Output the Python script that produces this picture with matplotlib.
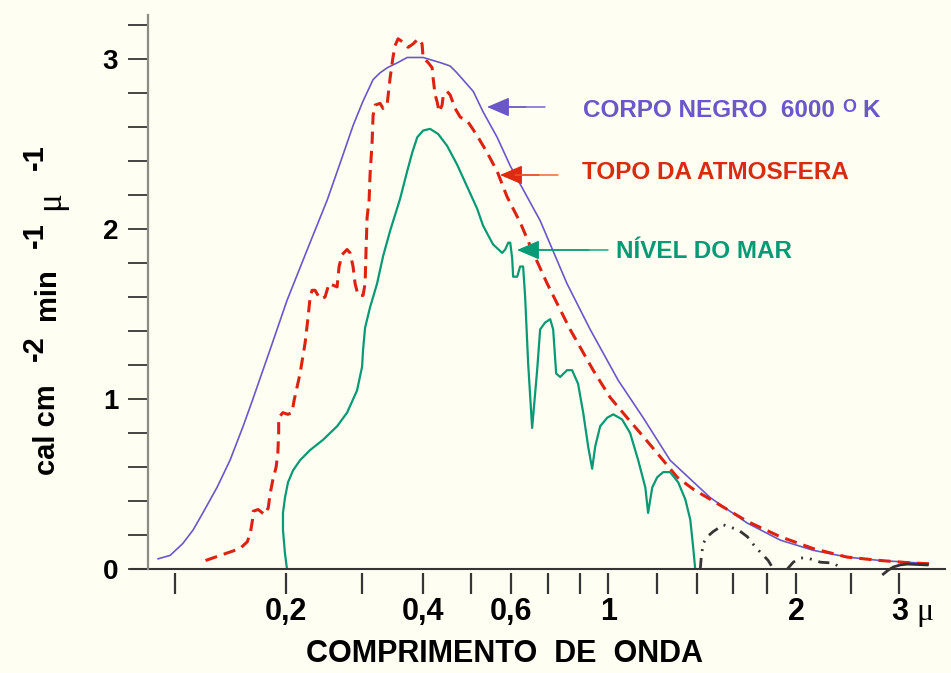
import numpy as np
import matplotlib.pyplot as plt

# spectral irradiance (cal cm-2 min-1 micron-1) vs wavelength (micron)
corpo_wl = [0.090, 0.097, 0.105, 0.112, 0.119, 0.130, 0.141, 0.153, 0.162, 0.181,
            0.201, 0.224, 0.249, 0.267, 0.286, 0.301, 0.316, 0.3266, 0.338, 0.355, 0.371,
            0.400, 0.433, 0.4535, 0.468, 0.505, 0.528, 0.563, 0.598, 0.677, 0.757, 0.866,
            1.038, 1.139, 1.261, 1.469, 1.680, 1.887, 2.142, 2.458, 2.79, 3.25]
corpo_val = [0.06, 0.08, 0.15, 0.23, 0.33, 0.48, 0.64, 0.84, 0.99, 1.29,
             1.58, 1.88, 2.17, 2.39, 2.61, 2.75, 2.88, 2.92, 2.95, 2.98, 3.01,
             3.01, 2.98, 2.96, 2.92, 2.81, 2.69, 2.54, 2.37, 2.05, 1.68, 1.41,
             1.11, 0.89, 0.64, 0.42, 0.27, 0.17, 0.11, 0.07, 0.05, 0.035]

topo_wl = [0.121, 0.141, 0.150, 0.157, 0.160, 0.162, 0.163, 0.168, 0.175, 0.179,
           0.181, 0.184, 0.188, 0.190, 0.191, 0.191, 0.196, 0.202, 0.2065, 0.2087,
           0.2121, 0.2155, 0.2214, 0.2249, 0.2274, 0.2298, 0.2334, 0.2398, 0.2462, 0.2516,
           0.2626, 0.2654, 0.2697, 0.2769, 0.2814, 0.2859, 0.289, 0.2937, 0.3014, 0.3043,
           0.3057, 0.3072, 0.3101, 0.3115, 0.3145, 0.316, 0.319, 0.3266, 0.3312, 0.3375,
           0.3424, 0.347, 0.3505, 0.3555, 0.364, 0.3728, 0.3816, 0.3907, 0.398, 0.400,
           0.4094, 0.4171, 0.419, 0.423, 0.4269, 0.4309, 0.4369, 0.439, 0.4472, 0.4535,
           0.4642, 0.4751, 0.4931, 0.5139, 0.5379, 0.563, 0.589, 0.6229, 0.6577, 0.697,
           0.767, 0.887, 1.007, 1.073, 1.139, 1.214, 1.296, 1.378, 1.469, 1.680,
           1.887, 2.142, 2.458, 2.79, 3.164, 3.414]
topo_val = [0.05, 0.10, 0.12, 0.16, 0.21, 0.28, 0.34, 0.35, 0.32, 0.36,
            0.44, 0.52, 0.60, 0.68, 0.80, 0.89, 0.92, 0.91, 0.92, 0.99,
            1.07, 1.15, 1.33, 1.48, 1.60, 1.64, 1.64, 1.59, 1.60, 1.68,
            1.66, 1.78, 1.85, 1.88, 1.86, 1.78, 1.68, 1.61, 1.61, 1.68,
            1.88, 2.07, 2.17, 2.32, 2.51, 2.67, 2.73, 2.74, 2.71, 2.73,
            2.89, 3.01, 3.08, 3.12, 3.10, 3.07, 3.09, 3.12, 3.09, 3.01,
            2.98, 2.95, 2.89, 2.79, 2.75, 2.69, 2.73, 2.78, 2.81, 2.79,
            2.71, 2.66, 2.63, 2.55, 2.45, 2.34, 2.19, 2.04, 1.86, 1.68,
            1.41, 1.17, 1.01, 0.89, 0.78, 0.66, 0.54, 0.47, 0.41, 0.28,
            0.19, 0.12, 0.07, 0.05, 0.035, 0.03]

mar_wl = [0.201, 0.1987, 0.1962, 0.1962, 0.1987, 0.2021, 0.2076, 0.2155, 0.2274, 0.2436,
          0.2626, 0.2769, 0.292, 0.300, 0.3014, 0.3043, 0.3115, 0.322, 0.3312, 0.3424,
          0.359, 0.371, 0.380, 0.389, 0.400, 0.4131, 0.4289, 0.4472, 0.4684, 0.4908,
          0.5139, 0.528, 0.5525, 0.576, 0.584, 0.592, 0.5975, 0.6025, 0.605, 0.6152,
          0.6229, 0.6307, 0.636, 0.644, 0.6548, 0.6686, 0.677, 0.691, 0.7059, 0.7147,
          0.7238, 0.7359, 0.7575, 0.7734, 0.793, 0.8194, 0.8526, 0.880, 0.9015, 0.938,
          0.992, 1.019, 1.053, 1.085, 1.118, 1.148, 1.160, 1.178, 1.200, 1.228,
          1.261, 1.301, 1.337, 1.363, 1.378, 1.389]
mar_val = [0.0, 0.09, 0.23, 0.33, 0.42, 0.51, 0.58, 0.64, 0.70, 0.76,
           0.84, 0.92, 1.05, 1.19, 1.29, 1.42, 1.54, 1.68, 1.84, 1.99,
           2.18, 2.34, 2.45, 2.54, 2.58, 2.59, 2.56, 2.49, 2.38, 2.25,
           2.12, 2.02, 1.91, 1.86, 1.88, 1.92, 1.92, 1.83, 1.72, 1.72,
           1.78, 1.78, 1.60, 1.21, 0.83, 1.17, 1.41, 1.45, 1.47, 1.41,
           1.15, 1.13, 1.17, 1.17, 1.09, 0.92, 0.72, 0.59, 0.72, 0.84,
           0.89, 0.91, 0.88, 0.80, 0.64, 0.48, 0.33, 0.48, 0.54, 0.57,
           0.57, 0.51, 0.41, 0.29, 0.13, 0.0]

# infrared windows beyond 1.4 micron
banda1_wl = [1.416, 1.421, 1.431, 1.453, 1.485, 1.542, 1.571, 1.628, 1.680, 1.727, 1.776, 1.806, 1.840]
banda1_val = [0.0, 0.07, 0.15, 0.19, 0.22, 0.26, 0.25, 0.23, 0.19, 0.13, 0.08, 0.05, 0.0]
banda2_wl = [1.936, 1.978, 2.033, 2.091, 2.205, 2.324, 2.362]
banda2_val = [0.0, 0.04, 0.065, 0.065, 0.04, 0.035, 0.02]
banda3_wl = [2.823, 2.878, 2.933, 3.011, 3.092, 3.337]
banda3_val = [-0.03, -0.006, 0.012, 0.024, 0.029, 0.024]

xtick_vals = [0.1, 0.2, 0.3, 0.4, 0.5, 0.6, 0.7, 0.8, 1.0, 1.2, 1.4, 1.6, 1.8, 2.0, 2.5, 3.0]
xtick_labels = ['', '0,2', '', '0,4', '', '0,6', '', '', '1', '', '', '', '', '2', '', '3']
ytick_vals = [0, 0.2, 0.4, 0.6, 0.8, 1, 1.2, 1.4, 1.6, 1.8, 2, 2.2, 2.4, 2.6, 2.8, 3, 3.2]
ytick_labels = ['0', '', '', '', '', '1', '', '', '', '', '2', '', '', '', '', '3', '']

# the wavelength axis is hand drawn: position of each wavelength along it
scale_wl = [0.05, 0.1, 0.2, 0.3, 0.4, 0.5, 0.6, 0.7, 0.8, 1.0, 1.2, 1.4, 1.6, 1.8, 2.0, 2.5, 3.0, 5.0]
scale_pos = [64, 175, 286, 362, 423, 471, 511, 548, 580, 608, 657, 697, 733, 767, 796, 851, 899, 1033]
log_wl = np.log10(scale_wl)


def fwd(x):
    return np.interp(np.log10(np.clip(x, 1e-4, None)), log_wl, scale_pos)


def inv(p):
    return 10 ** np.interp(p, scale_pos, log_wl)


W, H = 951, 673
bg = '#fefef3'
roxo = '#6a58c8'
vermelho = '#dd2211'
verde = '#089a74'
cinza = '#353535'
plt.rcParams['font.family'] = ['Liberation Sans', 'DejaVu Sans']


def fx(x):
    return x / W


def fy(y):
    return 1 - y / H


fig = plt.figure(figsize=(W / 100, H / 100), dpi=100, facecolor=bg)
ax = fig.add_axes([fx(148), fy(569), (945 - 148) / W, (569 - 15) / H])
ax.set_facecolor(bg)
ax.set_xscale('function', functions=(fwd, inv))
ax.set_xlim(0.0845, 3.57)
ax.set_ylim(0, 3.26)

ax.plot(corpo_wl, corpo_val, color=roxo, lw=1.2)
ax.plot(topo_wl, topo_val, color=vermelho, lw=2.2, dashes=(4, 2.3))
ax.plot(mar_wl, mar_val, color=verde, lw=1.6)
ax.plot(banda1_wl, banda1_val, color=cinza, lw=2, dashes=(4, 2.5, 0.7, 2.5, 0.7, 2.5))
ax.plot(banda2_wl, banda2_val, color=cinza, lw=2, dashes=(4, 2.5, 0.7, 2.5, 0.7, 2.5))
ax.plot(banda3_wl, banda3_val, color=cinza, lw=2, clip_on=False)

ax.axhline(0, xmin=-0.0213, xmax=1, color=cinza, lw=1.5, clip_on=False)
for s in ['top', 'right']:
    ax.spines[s].set_visible(False)
ax.spines['bottom'].set_position(('outward', 3))
ax.spines['bottom'].set_color('none')
ax.spines['left'].set_color('#8c8c84')
ax.spines['left'].set_linewidth(1.6)

ax.set_xticks(xtick_vals, xtick_labels, fontsize=22, fontweight='bold')
ax.xaxis.set_minor_locator(plt.NullLocator())
ax.tick_params(axis='x', direction='out', length=15, width=1.6, color=cinza, pad=2)
ax.set_yticks(ytick_vals, ytick_labels, fontsize=20, fontweight='bold')
ax.tick_params(axis='y', direction='out', length=14.5, width=1.4, color='#444444', pad=7)

fig.text(fx(925), fy(620), 'μ', fontsize=23, family='Liberation Serif', ha='center', va='baseline')
fig.text(fx(505), fy(662), 'COMPRIMENTO  DE  ONDA', fontsize=22, fontweight='bold',
         ha='center', va='baseline')

# y label built from pieces so the exponents sit at full size
ylab = [('cal cm', 55, 430, 'Liberation Sans', 'bold', 21),
        ('-2', 43, 348, 'Liberation Sans', 'bold', 21),
        ('min', 55, 294, 'Liberation Sans', 'bold', 21),
        ('-1', 43, 235, 'Liberation Sans', 'bold', 21),
        ('μ', 59, 201, 'Liberation Serif', 'normal', 25),
        ('-1', 43, 157, 'Liberation Sans', 'bold', 21)]
for txt, x, y, fam, wt, size in ylab:
    fig.text(fx(x), fy(y), txt, rotation=90, rotation_mode='anchor', ha='center',
             va='baseline', fontsize=size, family=fam, fontweight=wt)

# curve labels with arrows
fs = 17.5
fig.text(fx(583), fy(117), 'CORPO NEGRO  6000', color=roxo, fontsize=fs, fontweight='bold', va='baseline')
fig.text(fx(842), fy(112), 'O', color=roxo, fontsize=13, fontweight='bold', va='baseline')
fig.text(fx(862), fy(117), 'K', color=roxo, fontsize=fs, fontweight='bold', va='baseline')
fig.text(fx(582), fy(179), 'TOPO DA ATMOSFERA', color='#d92b0d', fontsize=fs, fontweight='bold', va='baseline')
fig.text(fx(616), fy(258), 'NÍVEL DO MAR', color=verde, fontsize=fs, fontweight='bold', va='baseline')

setas = [((487, 107), (545, 107), roxo, roxo),
         ((500, 175), (558, 175), '#dd2a10', '#ee5533'),
         ((517, 250), (608, 250), verde, verde)]
for tip, tail, cor, cor_linha in setas:
    ax.annotate('', xy=(fx(tip[0]), fy(tip[1])), xycoords='figure fraction',
                xytext=(fx(tail[0] - 19), fy(tail[1])), textcoords='figure fraction',
                arrowprops=dict(arrowstyle='-|>,head_length=0.7,head_width=0.3',
                                mutation_scale=20, color=cor, lw=1, shrinkA=0, shrinkB=0))
    ax.annotate('', xy=(fx(tip[0] + 15), fy(tip[1])), xycoords='figure fraction',
                xytext=(fx(tail[0]), fy(tail[1])), textcoords='figure fraction',
                arrowprops=dict(arrowstyle='-', color=cor_linha, lw=1, shrinkA=0, shrinkB=0))

fig.savefig('out.png', dpi=100, facecolor=bg)
